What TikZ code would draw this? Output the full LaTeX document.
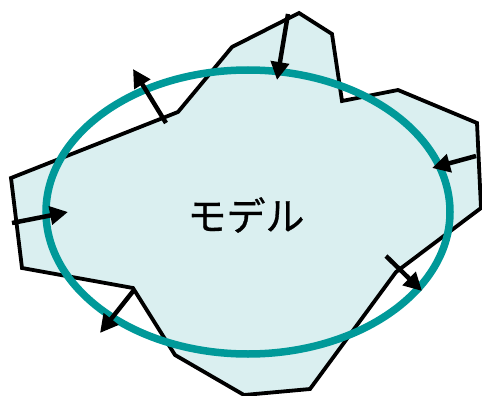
\documentclass[tikz,border=0pt]{standalone}
\usepackage{fontspec}
\newfontfamily\cjk[FakeBold=0.8]{Noto Sans CJK JP}
\usetikzlibrary{arrows.meta}
\definecolor{fillc}{RGB}{218,239,240}
\definecolor{tealc}{RGB}{0,153,153}
\tikzset{
  blob/.style={draw=black, line width=3.8pt, fill=fillc, line join=miter},
  ring/.style={draw=tealc, line width=7.5pt},
  push/.style={draw=black, line width=4.5pt, -{Triangle[length=18pt,width=18pt]}},
}
\begin{document}
\begin{tikzpicture}[x=1pt,y=-1pt]
\useasboundingbox (0,0) rectangle (482,396);
\draw[blob] (11,178) -- (178,112) -- (232,47) -- (299,13) -- (332,34) -- (342,101)
  -- (398,90) -- (477,123) -- (481,208) -- (396,272) -- (310,389) -- (244,395)
  -- (175,355) -- (133,288) -- (22,268) -- cycle;
\draw[ring] (248,212) ellipse [x radius=202, y radius=142];
\node[font=\cjk\fontsize{39}{42}\selectfont] (label) at (246,215) {モデル};
\coordinate (a1) at (166,123); \coordinate (b1) at (133,69);
\coordinate (a2) at (288,14);  \coordinate (b2) at (277,80);
\coordinate (a3) at (476,156); \coordinate (b3) at (432,168);
\coordinate (a4) at (386,256); \coordinate (b4) at (422,291);
\coordinate (a5) at (134,290); \coordinate (b5) at (100,333);
\coordinate (a6) at (12,223);  \coordinate (b6) at (68,212);
\foreach \i in {1,...,6} {\draw[push] (a\i) -- (b\i);}
\end{tikzpicture}
\end{document}
